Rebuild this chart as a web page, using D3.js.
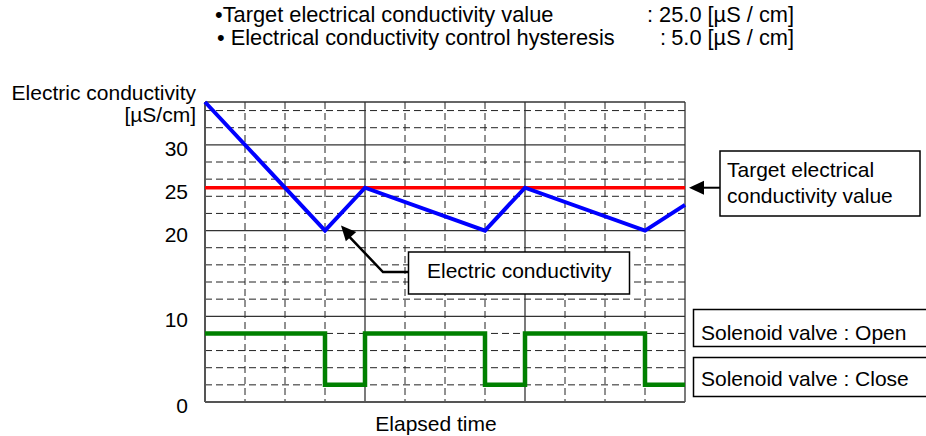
<!DOCTYPE html>
<html><head><meta charset="utf-8">
<script src="https://cdn.jsdelivr.net/npm/d3@7"></script>
<style>
html,body{margin:0;padding:0;background:#fff;}
svg{display:block;}
text{font-family:"Liberation Sans",Arial,sans-serif;fill:#000;}
</style></head><body>
<svg id="chart" width="926" height="436"></svg>
<script>
// Conductivity trace over elapsed time (µS/cm)
const condTime  = [0, 3, 4, 7, 8, 11, 12];
const condValue = [35, 20, 25, 20, 25, 20, 23];
// Control settings
const targetValue = 25.0;
const hysteresis  = 5.0;
// Solenoid valve trace (step line: high = open, low = close)
const valveTime  = [0, 3, 4, 7, 8, 11, 12];
const valveLevel = [8, 2, 8, 2, 8, 2, 2];
// Axis ticks and grid
const yTicks = [0, 10, 20, 25, 30];
const xDomain = [0, 12];
const yDomain = [0, 35];
const ySolid = [10, 20, 30];
const xSolid = [4, 8];

const svg = d3.select("#chart");
const plotL = 205, plotR = 685, plotT = 102, plotB = 402;
const x = d3.scaleLinear().domain(xDomain).range([plotL, plotR]);
const y = d3.scaleLinear().domain(yDomain).range([plotB, plotT]);
const FS = 21;

// Header lines
const hdr = svg.append("g").attr("font-size", 21.8);
hdr.append("text").attr("x", 215).attr("y", 22).text("•Target electrical conductivity value");
hdr.append("text").attr("x", 794).attr("y", 22).attr("text-anchor", "end")
  .text(": " + targetValue.toFixed(1) + " [µS / cm]");
hdr.append("text").attr("x", 217).attr("y", 45).text("• Electrical conductivity control hysteresis");
hdr.append("text").attr("x", 660).attr("y", 45).text(":");
hdr.append("text").attr("x", 794).attr("y", 45).attr("text-anchor", "end")
  .text(hysteresis.toFixed(1) + " [µS / cm]");

// Grid: dashed minor lines
const grid = svg.append("g");
const hMinor = d3.range(2, yDomain[1], 2).filter(v => !ySolid.includes(v));
const vMinor = d3.range(1, xDomain[1]).filter(v => !xSolid.includes(v));
grid.selectAll(".hm").data(hMinor).join("line")
  .attr("x1", x(xDomain[0])).attr("x2", x(xDomain[1]))
  .attr("y1", d => y(d)).attr("y2", d => y(d))
  .attr("stroke", "#222").attr("stroke-width", 1).attr("stroke-dasharray", "7,4");
grid.selectAll(".vm").data(vMinor).join("line")
  .attr("y1", y(yDomain[1])).attr("y2", y(yDomain[0]))
  .attr("x1", d => x(d)).attr("x2", d => x(d))
  .attr("stroke", "#222").attr("stroke-width", 1).attr("stroke-dasharray", "7,4");
// Grid: solid major lines
grid.selectAll(".hs").data(ySolid.concat([yDomain[1]])).join("line")
  .attr("x1", x(xDomain[0])).attr("x2", x(xDomain[1]))
  .attr("y1", d => y(d)).attr("y2", d => y(d))
  .attr("stroke", "#333").attr("stroke-width", 1.3);
grid.selectAll(".vs").data(xSolid.concat([xDomain[1]])).join("line")
  .attr("y1", y(yDomain[1])).attr("y2", y(yDomain[0]))
  .attr("x1", d => x(d)).attr("x2", d => x(d))
  .attr("stroke", "#333").attr("stroke-width", 1.3);
// Axis frame (left and bottom)
grid.append("line").attr("x1", x(0)).attr("x2", x(0)).attr("y1", y(yDomain[1])).attr("y2", y(0))
  .attr("stroke", "#555").attr("stroke-width", 2);
grid.append("line").attr("x1", x(0)).attr("x2", x(xDomain[1])).attr("y1", y(0)).attr("y2", y(0))
  .attr("stroke", "#555").attr("stroke-width", 2);

// Y axis labels
const yAxis = svg.append("g").attr("transform", `translate(${plotL},0)`)
  .call(d3.axisLeft(y).tickValues(yTicks).tickSize(0).tickPadding(17).tickFormat(d3.format("d")));
yAxis.select(".domain").remove();
yAxis.attr("font-size", FS).attr("font-family", null);
yAxis.selectAll("text").attr("dy", "0.5em").attr("fill", "#000");

svg.append("text").attr("x", 196).attr("y", 100).attr("text-anchor", "end")
  .attr("font-size", FS).text("Electric conductivity");
svg.append("text").attr("x", 196).attr("y", 122).attr("text-anchor", "end")
  .attr("font-size", FS).text("[µS/cm]");
svg.append("text").attr("x", 436).attr("y", 431).attr("text-anchor", "middle")
  .attr("font-size", FS).text("Elapsed time");

// Target line
svg.append("line").attr("x1", x(xDomain[0])).attr("x2", x(xDomain[1]))
  .attr("y1", y(targetValue)).attr("y2", y(targetValue))
  .attr("stroke", "#ff0000").attr("stroke-width", 3.5);

// Conductivity line
const condPts = condTime.map((t, i) => [t, condValue[i]]);
svg.append("path").datum(condPts)
  .attr("d", d3.line().x(d => x(d[0])).y(d => y(d[1])))
  .attr("fill", "none").attr("stroke", "#0000ff").attr("stroke-width", 4)
  .attr("stroke-linejoin", "miter");

// Valve step line
const valvePts = valveTime.map((t, i) => [t, valveLevel[i]]);
svg.append("path").datum(valvePts)
  .attr("d", d3.line().curve(d3.curveStepAfter).x(d => x(d[0])).y(d => y(d[1])))
  .attr("fill", "none").attr("stroke", "#008000").attr("stroke-width", 4.5);

// Callouts
function box(bx, by, bw, bh) {
  svg.append("rect").attr("x", bx).attr("y", by).attr("width", bw).attr("height", bh)
    .attr("fill", "#fff").attr("stroke", "#000").attr("stroke-width", 1.5);
}
function arrowHead(tx, ty, fx, fy, len, half) {
  const a = Math.atan2(ty - fy, tx - fx);
  const bx = tx - len * Math.cos(a), by = ty - len * Math.sin(a);
  const px = -Math.sin(a) * half, py = Math.cos(a) * half;
  svg.append("path").attr("d", `M${tx},${ty}L${bx + px},${by + py}L${bx - px},${by - py}Z`).attr("fill", "#000");
}

// Target value callout
const tY = y(targetValue);
box(720, 151, 200, 65);
svg.append("text").attr("x", 727).attr("y", 177).attr("font-size", FS).text("Target electrical");
svg.append("text").attr("x", 727).attr("y", 203).attr("font-size", FS).text("conductivity value");
svg.append("line").attr("x1", 720).attr("x2", 700).attr("y1", tY).attr("y2", tY)
  .attr("stroke", "#000").attr("stroke-width", 2);
arrowHead(x(xDomain[1]) + 4, tY, 720, tY, 15, 7);

// Conductivity callout
const tipX = x(3.4), tipY = y(20.6);
svg.append("path").attr("d", `M409,272L383,272L${tipX + 8},${tipY + 11}`)
  .attr("fill", "none").attr("stroke", "#000").attr("stroke-width", 2.5);
arrowHead(tipX, tipY, 383, 272, 15, 7);
box(408.5, 252, 221, 42);
svg.append("text").attr("x", 427).attr("y", 278).attr("font-size", FS).text("Electric conductivity");

// Valve state labels
box(693.5, 309.5, 260, 37);
svg.append("text").attr("x", 701).attr("y", 340).attr("font-size", FS).text("Solenoid valve : Open");
box(693.5, 357.5, 260, 39);
svg.append("text").attr("x", 701).attr("y", 386).attr("font-size", FS).text("Solenoid valve : Close");
</script>
</body></html>
